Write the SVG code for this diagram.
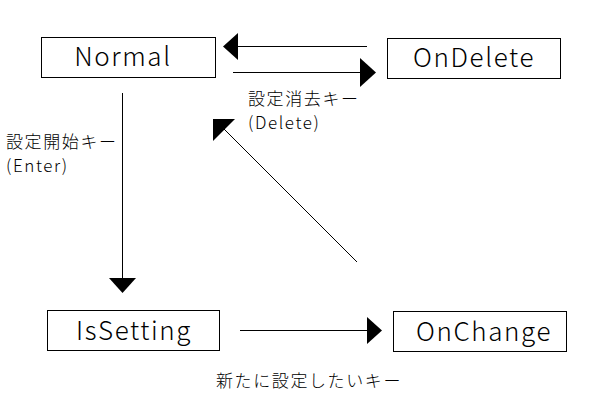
<svg xmlns="http://www.w3.org/2000/svg" width="600" height="400" viewBox="0 0 600 400">
<style>
.box{fill:#fff;stroke:#000;stroke-width:1}
.nt{font-family:"Noto Sans CJK JP","Noto Sans",sans-serif;font-size:26px;font-weight:300;letter-spacing:1.6px;fill:#000;text-anchor:middle}
.lt{font-family:"Noto Sans CJK JP","Noto Sans",sans-serif;font-size:17px;font-weight:300;letter-spacing:1.6px;fill:#000}
.ln{stroke:#000;stroke-width:1;fill:none}
.hd{fill:#000;stroke:none}
</style>
<rect width="600" height="400" fill="#fff"/>
<g id="Normal"><rect class="box" x="41.5" y="37.5" width="174" height="40"/><text class="nt" x="123" y="66">Normal</text></g>
<g id="OnDelete"><rect class="box" x="387.5" y="38.5" width="173" height="40"/><text class="nt" x="474" y="67">OnDelete</text></g>
<g id="IsSetting"><rect class="box" x="47.5" y="310.5" width="172" height="40"/><text class="nt" x="134" y="340">IsSetting</text></g>
<g id="OnChange"><rect class="box" x="393.5" y="311.5" width="173" height="40"/><text class="nt" x="484" y="341">OnChange</text></g>
<g id="connectors">
<line class="ln" x1="367" y1="46.5" x2="236" y2="46.5"/>
<polygon class="hd" points="223,46.5 238,33 238,60"/>
<line class="ln" x1="233" y1="72.5" x2="362" y2="72.5"/>
<polygon class="hd" points="376,72.5 360,58 360,87"/>
<line class="ln" x1="122.5" y1="93" x2="122.5" y2="280"/>
<polygon class="hd" points="122.5,293 109,278 136,278"/>
<line class="ln" x1="240" y1="330.5" x2="368" y2="330.5"/>
<polygon class="hd" points="382,330.5 367,317 367,344"/>
<line class="ln" x1="357" y1="262" x2="224" y2="129"/>
<polygon class="hd" points="213,119 235,119 213,141"/>
</g>
<g id="labels">
<text class="lt" x="248" y="105">設定消去キー</text>
<text class="lt" x="248" y="129">(Delete)</text>
<text class="lt" x="6" y="148">設定開始キー</text>
<text class="lt" x="6" y="172">(Enter)</text>
<text class="lt" x="216" y="387">新たに設定したいキー</text>
</g>
</svg>
